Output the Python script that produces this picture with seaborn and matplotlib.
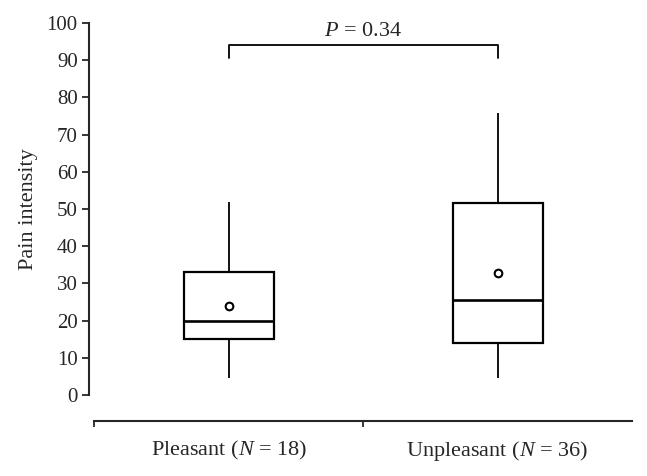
import matplotlib
matplotlib.use("Agg")
import matplotlib.pyplot as plt
import numpy as np
import pandas as pd
import seaborn as sns
from matplotlib.ticker import FixedLocator

# valores
GROUPS = ["Pleasant ($N$ = 18)", "Unpleasant ($N$ = 36)"]
WHISK_LO = [4.7, 4.7]
Q1 = [15.1, 13.9]
MEDIAN = [20.0, 25.4]
Q3 = [33.1, 51.5]
WHISK_HI = [51.8, 75.7]
MEANS = [23.9, 32.9]
P_VALUE = 0.34
BRACKET_Y = 94.0
BRACKET_DROP = 3.5

sns.set_theme(style="ticks")
plt.rcParams["font.family"] = ["Liberation Serif", "DejaVu Serif"]
plt.rcParams["mathtext.fontset"] = "custom"
plt.rcParams["mathtext.rm"] = "Liberation Serif"
plt.rcParams["mathtext.it"] = "Liberation Serif:italic"

# 5 números por grupo -> com whis=(0,100) o boxplot reproduz exatamente o resumo
rows = []
for g, lo, a, m, b, hi in zip(GROUPS, WHISK_LO, Q1, MEDIAN, Q3, WHISK_HI):
    for v in (lo, a, m, b, hi):
        rows.append({"group": g, "value": v})
df = pd.DataFrame(rows)
means = pd.DataFrame({"group": GROUPS, "value": MEANS})

fig = plt.figure(figsize=(6.47, 4.76), dpi=100)
ax = fig.add_axes([0.1458, 0.1702, 0.831, 0.7815])

sns.boxplot(data=df, x="group", y="value", order=GROUPS, whis=(0, 100), width=0.335,
            color="white", linecolor="black", linewidth=1.6, showcaps=False,
            fliersize=0, ax=ax,
            medianprops={"linewidth": 1.9},
            boxprops={"linewidth": 1.6},
            whiskerprops={"linewidth": 1.3})
sns.stripplot(data=means, x="group", y="value", order=GROUPS, jitter=False,
              marker="o", size=5.5, color="white", edgecolor="black", linewidth=1.5,
              ax=ax, zorder=5)

ax.set_xlim(-0.5, 1.5)
ax.set_ylim(0, 100)
ax.set_yticks(np.arange(0, 101, 10))
ax.set_ylabel("Pain intensity", fontsize=16, labelpad=6)
ax.set_xlabel("")

sns.despine(ax=ax)
ax.spines["left"].set_position(("outward", 4))
ax.spines["bottom"].set_position(("outward", 18.5))
for s in ("left", "bottom"):
    ax.spines[s].set_linewidth(1.5)

ax.tick_params(axis="y", length=5, width=1.3, labelsize=15, pad=3)
ax.tick_params(axis="x", which="major", length=0, labelsize=16, pad=13)
ax.xaxis.set_minor_locator(FixedLocator([-0.5, 0.5]))
ax.tick_params(axis="x", which="minor", length=4, width=1.3, direction="out")

# colchete de significância
ax.plot([0, 0, 1, 1],
        [BRACKET_Y - BRACKET_DROP, BRACKET_Y, BRACKET_Y, BRACKET_Y - BRACKET_DROP],
        color="black", lw=1.3, clip_on=False)
ax.text(0.5, BRACKET_Y + 1.2, f"$P$ = {P_VALUE:.2f}", ha="center", va="bottom",
        fontsize=16)

fig.savefig("out.png", dpi=100)
